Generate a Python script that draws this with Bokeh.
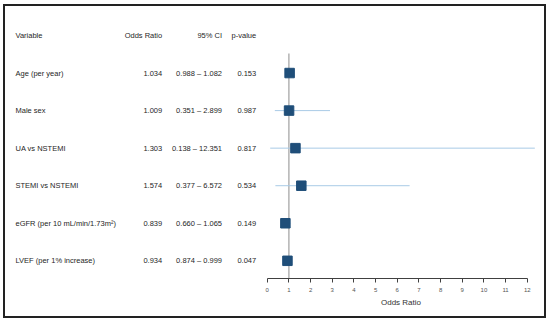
from bokeh.plotting import figure
from bokeh.models import ColumnDataSource, Range1d, FixedTicker
from bokeh.layouts import row
from bokeh.core.properties import value
from bokeh.embed import file_html
from bokeh.resources import INLINE

# ---------------- data ----------------
variables = ["Age (per year)", "Male sex", "UA vs NSTEMI", "STEMI vs NSTEMI",
             "eGFR (per 10 mL/min/1.73m\u00b2)", "LVEF (per 1% increase)"]
odds_ratio = [1.034, 1.009, 1.303, 1.574, 0.839, 0.934]
ci_low = [0.988, 0.351, 0.138, 0.377, 0.660, 0.874]
ci_high = [1.082, 2.899, 12.351, 6.572, 1.065, 0.999]
p_values = [0.153, 0.987, 0.817, 0.534, 0.149, 0.047]
headers = ["Variable", "Odds Ratio", "95% CI", "p-value"]
x_ticks = [0, 1, 2, 3, 4, 5, 6, 7, 8, 9, 10, 11, 12]

# ---------------- layout ----------------
FONT = value("Liberation Sans")
TXT = "#262626"
rows_idx = list(range(1, len(variables) + 1))
Y_RANGE = (6.471, -0.772)
BOTTOM = 38

src = ColumnDataSource(dict(
    y=rows_idx,
    var=variables,
    orr=[f"{v:.3f}" for v in odds_ratio],
    ci=[f"{a:.3f} \u2013 {b:.3f}" for a, b in zip(ci_low, ci_high)],
    p=[f"{v:.3f}" for v in p_values],
    x_or=odds_ratio, lo=ci_low, hi=ci_high,
))

# left: table
left = figure(width=252, height=310, output_backend="svg", toolbar_location=None,
              x_range=Range1d(5, 257), y_range=Range1d(*Y_RANGE),
              x_axis_location=None, y_axis_location=None,
              min_border_left=0, min_border_right=0, min_border_top=0,
              min_border_bottom=BOTTOM)
left.grid.visible = False
left.outline_line_color = None

col_x = {"Variable": 15, "Odds Ratio": 161.7, "95% CI": 221.5, "p-value": 255.7}
col_align = {"Variable": "left", "Odds Ratio": "right", "95% CI": "right", "p-value": "right"}
hdr_src = ColumnDataSource(dict(x=[col_x[h] for h in headers], y=[0] * 4, t=headers,
                                a=[col_align[h] for h in headers]))
left.text(x="x", y="y", text="t", source=hdr_src, text_align="a",
          text_baseline="middle", text_font=FONT, text_font_size="7.5px", text_color=TXT)
for col, key in [("Variable", "var"), ("Odds Ratio", "orr"), ("95% CI", "ci"), ("p-value", "p")]:
    left.text(x=col_x[col], y="y", text=key, source=src, text_align=col_align[col],
              text_baseline="middle", text_font=FONT, text_font_size="7.5px", text_color=TXT)

# right: forest plot
right = figure(width=287, height=310, output_backend="svg", toolbar_location=None,
               x_range=Range1d(-0.448, 12.797), y_range=left.y_range,
               y_axis_location=None,
               min_border_left=0, min_border_right=0, min_border_top=0,
               min_border_bottom=BOTTOM)
right.grid.visible = False
right.outline_line_color = None

right.segment(x0=1, y0=0.48, x1=1, y1=Y_RANGE[0], line_color="#b3b3b3", line_width=1.5)
right.segment(x0="lo", y0="y", x1="hi", y1="y", source=src, line_color="#a9cbe6", line_width=1)
right.scatter(x="x_or", y="y", source=src, marker="square", size=9.5,
              fill_color="#1f4e79", line_color="#1f4e79")

ax = right.xaxis[0]
ax.bounds = (0, 12)
ax.ticker = FixedTicker(ticks=x_ticks)
ax.axis_line_color = "#404040"
ax.major_tick_line_color = "#404040"
ax.major_tick_out = 4
ax.major_tick_in = 0
ax.minor_tick_line_color = None
ax.major_label_text_font = "Liberation Sans"
ax.major_label_text_font_size = "6px"
ax.major_label_text_color = "#555555"
ax.major_label_standoff = 5
ax.axis_label = "Odds Ratio"
ax.axis_label_text_font = "Liberation Sans"
ax.axis_label_text_font_size = "8px"
ax.axis_label_text_font_style = "normal"
ax.axis_label_text_color = "#333333"
ax.axis_label_standoff = 3

layout = row(left, right)
layout.styles = {"border": "2px solid #222", "margin-left": "3px", "margin-top": "4px"}

open("out.html", "w").write(file_html(layout, INLINE))
